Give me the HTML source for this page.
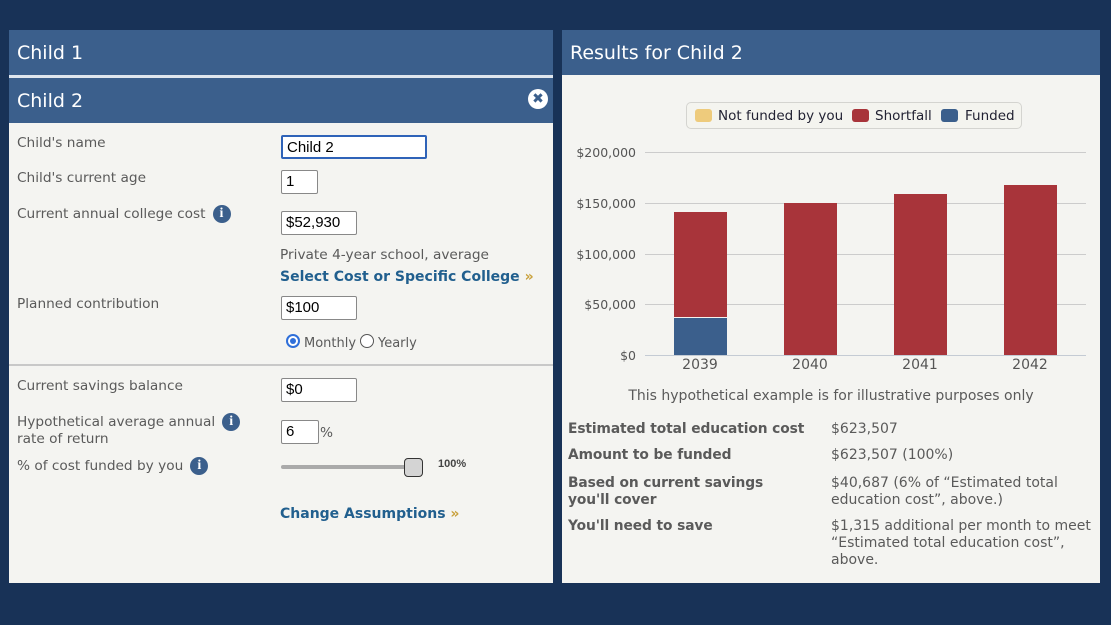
<!DOCTYPE html>
<html><head><meta charset="utf-8"><style>
*{margin:0;padding:0;box-sizing:border-box}
body{width:1111px;height:625px;background:#183257;position:relative;overflow:hidden;font-family:"DejaVu Sans","Liberation Sans",sans-serif}
.a{position:absolute;white-space:nowrap}
.panel{position:absolute;background:#f4f4f1}
.hdr{position:absolute;background:#3b5f8c;color:#fff;font-size:19px;padding-left:8px;line-height:46px}
.lbl{position:absolute;font-size:13.7px;color:#5a5a5a;white-space:nowrap}
.inp{position:absolute;background:#fff;border:1px solid #888;border-radius:2px;font-family:"Liberation Sans",sans-serif;font-size:15px;color:#000;padding-left:4px;line-height:22px}
.info{display:inline-block;width:18px;height:18px;border-radius:50%;background:#3b5f8c;color:#fff;font-family:"Liberation Serif",serif;font-weight:bold;font-size:14px;text-align:center;line-height:18px;vertical-align:middle;margin-left:7px}
.link{position:absolute;color:#215f8e;font-weight:bold;font-size:14px;white-space:nowrap}
.link span{color:#c9a13d}
.bold{position:absolute;font-weight:bold;font-size:13.8px;color:#5a5a5a;line-height:17px;letter-spacing:-0.1px}
.val{position:absolute;font-size:14px;color:#5a5a5a;line-height:17px}
.yl{position:absolute;right:475px;font-size:12.5px;color:#555;text-align:right}
.grid{position:absolute;left:645px;width:441px;height:1px;background:#ccc}
.bar{position:absolute;background:#a8343a}
.xl{position:absolute;font-size:14px;color:#555;width:60px;text-align:center}
</style></head><body>
<div class="panel" style="left:9px;top:30px;width:544px;height:553px"></div>
<div class="hdr" style="left:9px;top:30px;width:544px;height:45px">Child 1</div>
<div class="a" style="left:9px;top:75px;width:544px;height:3px;background:#dfe6ee"></div>
<div class="hdr" style="left:9px;top:78px;width:544px;height:45px">Child 2</div>
<div class="a" style="left:528px;top:89px;width:20px;height:20px;border-radius:50%;background:#fff;color:#3b5f8c;font-weight:bold;font-size:14px;text-align:center;line-height:20px">✖</div>
<div class="lbl" style="left:17px;top:135px">Child's name</div>
<div class="inp" style="left:281px;top:135px;width:146px;height:24px;border:2px solid #2f63b8">Child 2</div>
<div class="lbl" style="left:17px;top:170px">Child's current age</div>
<div class="inp" style="left:281px;top:170px;width:37px;height:24px">1</div>
<div class="lbl" style="left:17px;top:205px">Current annual college cost<span class="info">i</span></div>
<div class="inp" style="left:281px;top:211px;width:76px;height:24px">$52,930</div>
<div class="lbl" style="left:280px;top:247px">Private 4-year school, average</div>
<div class="link" style="left:280px;top:269px">Select Cost or Specific College <span>»</span></div>
<div class="lbl" style="left:17px;top:296px">Planned contribution</div>
<div class="inp" style="left:281px;top:296px;width:76px;height:24px">$100</div>
<div class="a" style="left:286px;top:334px;width:14px;height:14px;border-radius:50%;background:#fff;border:2px solid #2f6fd9"><div style="width:6px;height:6px;margin:2px;border-radius:50%;background:#2f6fd9"></div></div>
<div class="lbl" style="left:304px;top:336px;font-size:13px">Monthly</div>
<div class="a" style="left:360px;top:334px;width:14px;height:14px;border-radius:50%;background:#fff;border:1px solid #555"></div>
<div class="lbl" style="left:378px;top:336px;font-size:13px">Yearly</div>
<div class="a" style="left:9px;top:364px;width:544px;height:2px;background:#c8c8c8"></div>
<div class="lbl" style="left:17px;top:378px">Current savings balance</div>
<div class="inp" style="left:281px;top:378px;width:76px;height:24px">$0</div>
<div class="lbl" style="left:17px;top:413px;line-height:17px">Hypothetical average annual<span class="info">i</span><br>rate of return</div>
<div class="inp" style="left:281px;top:420px;width:38px;height:24px">6</div>
<div class="lbl" style="left:320px;top:425px">%</div>
<div class="lbl" style="left:17px;top:457px">% of cost funded by you<span class="info">i</span></div>
<div class="a" style="left:281px;top:465px;width:130px;height:4px;background:#aaa;border-radius:2px"></div>
<div class="a" style="left:404px;top:458px;width:19px;height:19px;background:#d4d4d4;border:1.5px solid #333;border-radius:4px"></div>
<div class="a" style="left:438px;top:458px;font-size:11px;font-weight:bold;color:#444;font-family:'Liberation Sans',sans-serif">100%</div>
<div class="link" style="left:280px;top:506px">Change Assumptions <span>»</span></div>

<div class="panel" style="left:562px;top:30px;width:538px;height:553px"></div>
<div class="hdr" style="left:562px;top:30px;width:538px;height:45px">Results for Child 2</div>
<div class="a" style="left:686px;top:102px;width:336px;height:27px;border:1px solid #d4d4d0;border-radius:5px;background:#f4f4ef"></div>
<div class="a" style="left:695px;top:109px;width:17px;height:13px;border-radius:3px;background:#eecb7c"></div>
<div class="a" style="left:718px;top:108px;font-size:13.5px;color:#223">Not funded by you</div>
<div class="a" style="left:852px;top:109px;width:17px;height:13px;border-radius:3px;background:#a8343a"></div>
<div class="a" style="left:875px;top:108px;font-size:13.5px;color:#223">Shortfall</div>
<div class="a" style="left:941px;top:109px;width:17px;height:13px;border-radius:3px;background:#3b5f8c"></div>
<div class="a" style="left:965px;top:108px;font-size:13.5px;color:#223">Funded</div>
<div class="grid" style="top:152px"></div>
<div class="grid" style="top:203px"></div>
<div class="grid" style="top:254px"></div>
<div class="grid" style="top:304px"></div>
<div class="grid" style="top:355px;background:#c4cbd4"></div>
<div class="yl" style="top:145px">$200,000</div>
<div class="yl" style="top:196px">$150,000</div>
<div class="yl" style="top:247px">$100,000</div>
<div class="yl" style="top:297px">$50,000</div>
<div class="yl" style="top:348px">$0</div>
<div class="bar" style="left:674px;top:212px;width:53px;height:105px"></div>
<div class="bar" style="left:674px;top:318px;width:53px;height:37px;background:#3b5f8c"></div>
<div class="bar" style="left:784px;top:203px;width:53px;height:152px"></div>
<div class="bar" style="left:894px;top:194px;width:53px;height:161px"></div>
<div class="bar" style="left:1004px;top:185px;width:53px;height:170px"></div>
<div class="xl" style="left:670px;top:357px">2039</div>
<div class="xl" style="left:780px;top:357px">2040</div>
<div class="xl" style="left:890px;top:357px">2041</div>
<div class="xl" style="left:1000px;top:357px">2042</div>
<div class="a" style="left:562px;width:538px;top:388px;text-align:center;font-size:14px;color:#5a5a5a">This hypothetical example is for illustrative purposes only</div>
<div class="bold" style="left:568px;top:421px">Estimated total education cost</div>
<div class="val" style="left:831px;top:421px">$623,507</div>
<div class="bold" style="left:568px;top:447px">Amount to be funded</div>
<div class="val" style="left:831px;top:447px">$623,507 (100%)</div>
<div class="bold" style="left:568px;top:475px">Based on current savings<br>you'll cover</div>
<div class="val" style="left:831px;top:475px">$40,687 (6% of “Estimated total<br>education cost”, above.)</div>
<div class="bold" style="left:568px;top:518px">You'll need to save</div>
<div class="val" style="left:831px;top:518px">$1,315 additional per month to meet<br>“Estimated total education cost”,<br>above.</div>
</body></html>
